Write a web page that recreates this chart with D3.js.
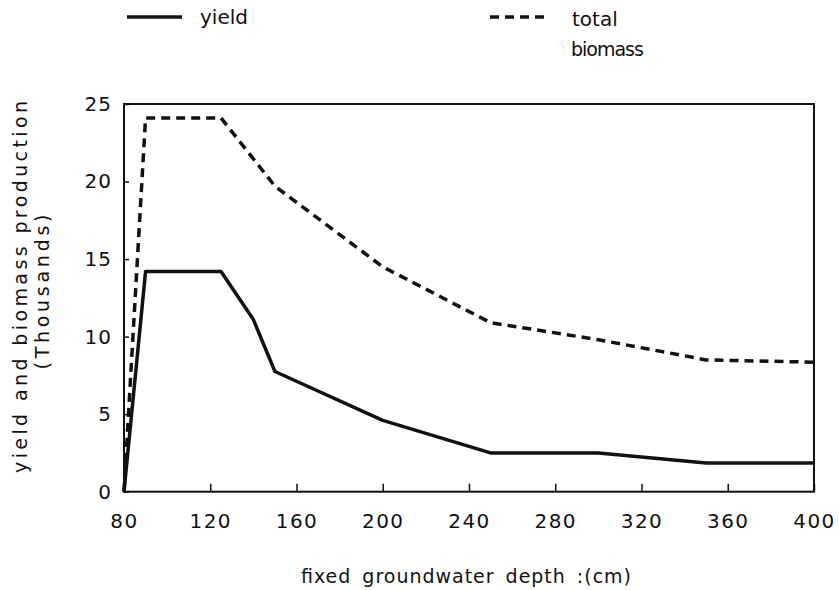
<!DOCTYPE html>
<html>
<head>
<meta charset="utf-8">
<script src="https://cdn.jsdelivr.net/npm/d3@7/dist/d3.min.js"></script>
<style>
  html, body { margin: 0; padding: 0; background: #fff; }
  svg { display: block; }
  text { font-family: "DejaVu Sans", sans-serif; fill: #111; }
</style>
</head>
<body>
<svg id="chart" width="839" height="590"></svg>
<script>
// ---- data ----
const yieldDepth   = [80, 90, 125, 140, 150, 200, 250, 300, 350, 400];
const yieldValues  = [0, 14.2, 14.2, 11.1, 7.75, 4.6, 2.5, 2.5, 1.85, 1.85];
const biomassDepth  = [80, 90, 125, 150, 200, 250, 300, 350, 400];
const biomassValues = [0, 24.1, 24.1, 19.7, 14.5, 10.9, 9.8, 8.5, 8.35];
const xTicks = [80, 120, 160, 200, 240, 280, 320, 360, 400];
const yTicks = [0, 5, 10, 15, 20, 25];
const seriesNames = ["yield", "total", "biomass"];

const svg = d3.select("#chart");
const pLeft = 124, pRight = 814, pTop = 104, pBottom = 491.7;

const x = d3.scaleLinear().domain([80, 400]).range([pLeft, pRight]);
const y = d3.scaleLinear().domain([0, 25]).range([pBottom, pTop]);

// frame
svg.append("rect")
  .attr("x", pLeft).attr("y", pTop)
  .attr("width", pRight - pLeft).attr("height", pBottom - pTop)
  .attr("fill", "none").attr("stroke", "#111").attr("stroke-width", 2);

// x axis
const xAxis = svg.append("g")
  .attr("transform", `translate(0,${pBottom})`)
  .call(d3.axisBottom(x).tickValues(xTicks).tickSize(-8).tickPadding(22).tickFormat(d3.format("d")));
xAxis.select(".domain").remove();
xAxis.selectAll("line").attr("stroke", "#111").attr("stroke-width", 1.5);
xAxis.selectAll("text").attr("font-size", 20).attr("letter-spacing", "1.5px")
  .attr("font-family", "DejaVu Sans").attr("fill", "#111");

// y axis
const yAxis = svg.append("g")
  .attr("transform", `translate(${pLeft},0)`)
  .call(d3.axisLeft(y).tickValues(yTicks).tickSize(-5).tickPadding(12).tickFormat(d3.format("d")));
yAxis.select(".domain").remove();
yAxis.selectAll("line").attr("stroke", "#111").attr("stroke-width", 1.5);
yAxis.selectAll("text").attr("font-size", 20).attr("letter-spacing", "1px")
  .attr("font-family", "DejaVu Sans").attr("fill", "#111");

// lines
const line = d3.line().x(d => x(d[0])).y(d => y(d[1]));
const yieldPts = yieldDepth.map((d, i) => [d, yieldValues[i]]);
const bioPts = biomassDepth.map((d, i) => [d, biomassValues[i]]);

svg.append("path").datum(bioPts).attr("d", line)
  .attr("fill", "none").attr("stroke", "#111").attr("stroke-width", 3.5)
  .attr("stroke-dasharray", "9,6");
svg.append("path").datum(yieldPts).attr("d", line)
  .attr("fill", "none").attr("stroke", "#111").attr("stroke-width", 3.5)
  .attr("stroke-linejoin", "round");

// legend
svg.append("line").attr("x1", 127).attr("x2", 182).attr("y1", 17).attr("y2", 17)
  .attr("stroke", "#111").attr("stroke-width", 3.5);
svg.append("text").attr("x", 200).attr("y", 24).attr("font-size", 20)
  .text(seriesNames[0]);
svg.append("line").attr("x1", 490).attr("x2", 545).attr("y1", 17).attr("y2", 17)
  .attr("stroke", "#111").attr("stroke-width", 3.5).attr("stroke-dasharray", "9,6");
svg.append("text").attr("x", 572).attr("y", 26).attr("font-size", 20)
  .text(seriesNames[1]);
svg.append("text").attr("x", 571).attr("y", 56).attr("font-size", 19)
  .attr("letter-spacing", "-1px")
  .text(seriesNames[2]);

// axis titles
svg.append("text").attr("x", 466).attr("y", 583).attr("text-anchor", "middle")
  .attr("font-size", 19).attr("textLength", 330).attr("lengthAdjust", "spacing")
  .attr("word-spacing", "4px")
  .text("fixed groundwater depth :(cm)");

svg.append("text")
  .attr("transform", "translate(27,287) rotate(-90)")
  .attr("text-anchor", "middle").attr("font-size", 19)
  .attr("textLength", 372).attr("lengthAdjust", "spacing")
  .text("yield and biomass production");
svg.append("text")
  .attr("transform", "translate(49,292) rotate(-90)")
  .attr("text-anchor", "middle").attr("font-size", 19)
  .attr("textLength", 155).attr("lengthAdjust", "spacing")
  .text("(Thousands)");
</script>
</body>
</html>
